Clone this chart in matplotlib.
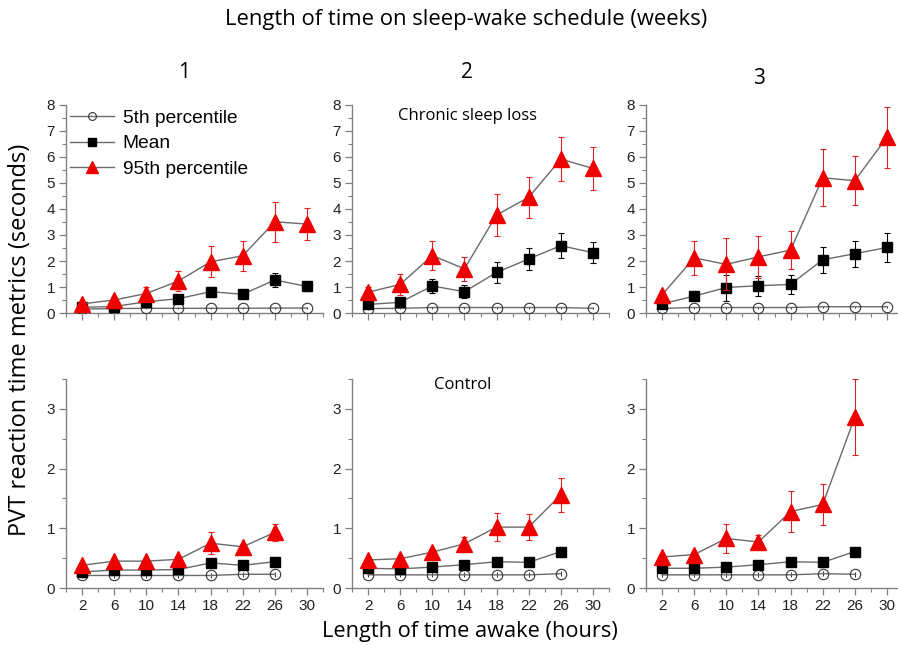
import matplotlib
matplotlib.use("Agg")
import matplotlib.pyplot as plt
from matplotlib.ticker import MultipleLocator

# hours awake (chronic sleep loss has 8 points, control 7)
hours = [2, 6, 10, 14, 18, 22, 26, 30]
hours_ctrl = [2, 6, 10, 14, 18, 22, 26]
weeks = ["1", "2", "3"]

# chronic sleep loss, one list per week
p5_chronic = [
    [0.15, 0.17, 0.18, 0.18, 0.18, 0.18, 0.19, 0.19],
    [0.17, 0.18, 0.21, 0.21, 0.21, 0.21, 0.21, 0.18],
    [0.18, 0.21, 0.21, 0.21, 0.21, 0.24, 0.24, 0.24],
]
mean_chronic = [
    [0.22, 0.25, 0.43, 0.55, 0.82, 0.72, 1.27, 1.02],
    [0.33, 0.41, 1.04, 0.82, 1.56, 2.08, 2.59, 2.32],
    [0.35, 0.65, 0.98, 1.05, 1.10, 2.05, 2.28, 2.52],
]
mean_chronic_err = [
    [0.05, 0.07, 0.12, 0.15, 0.17, 0.10, 0.27, 0.17],
    [0.08, 0.10, 0.27, 0.25, 0.40, 0.42, 0.47, 0.40],
    [0.10, 0.10, 0.50, 0.38, 0.37, 0.50, 0.50, 0.55],
]
p95_chronic = [
    [0.35, 0.50, 0.75, 1.23, 1.97, 2.20, 3.51, 3.42],
    [0.80, 1.10, 2.21, 1.70, 3.77, 4.45, 5.92, 5.56],
    [0.70, 2.12, 1.87, 2.16, 2.42, 5.20, 5.09, 6.76],
]
p95_chronic_err = [
    [0.10, 0.12, 0.25, 0.38, 0.60, 0.57, 0.77, 0.62],
    [0.20, 0.40, 0.57, 0.47, 0.80, 0.80, 0.85, 0.82],
    [0.15, 0.65, 1.00, 0.80, 0.72, 1.10, 0.95, 1.18],
]

# control condition
p5_ctrl = [
    [0.21, 0.21, 0.21, 0.21, 0.21, 0.23, 0.23],
    [0.22, 0.22, 0.22, 0.22, 0.22, 0.22, 0.24],
    [0.22, 0.22, 0.22, 0.22, 0.22, 0.24, 0.23],
]
mean_ctrl = [
    [0.27, 0.30, 0.30, 0.31, 0.42, 0.38, 0.44],
    [0.33, 0.32, 0.35, 0.39, 0.44, 0.43, 0.61],
    [0.33, 0.33, 0.35, 0.39, 0.44, 0.43, 0.61],
]
mean_ctrl_err = [
    [0.02, 0.02, 0.02, 0.02, 0.05, 0.03, 0.04],
    [0.02, 0.02, 0.02, 0.02, 0.02, 0.02, 0.04],
    [0.02, 0.02, 0.02, 0.02, 0.02, 0.02, 0.04],
]
p95_ctrl = [
    [0.38, 0.45, 0.45, 0.48, 0.75, 0.69, 0.93],
    [0.47, 0.49, 0.60, 0.74, 1.02, 1.02, 1.56],
    [0.52, 0.56, 0.83, 0.77, 1.28, 1.40, 2.86],
]
p95_ctrl_err = [
    [0.03, 0.03, 0.03, 0.05, 0.18, 0.05, 0.15],
    [0.03, 0.03, 0.05, 0.11, 0.23, 0.22, 0.29],
    [0.04, 0.05, 0.24, 0.12, 0.35, 0.35, 0.64],
]

plt.rcParams["font.family"] = ["Liberation Sans", "DejaVu Sans"]
LABEL_FONT = ["Open Sans", "DejaVu Sans"]
LINE_C = "#6a6a6a"
SPINE_C = "#808080"

W, H = 898, 645
fig = plt.figure(figsize=(W / 100, H / 100), dpi=100)


def px_axes(x0, y_top, x1, y_bot):
    return fig.add_axes([x0 / W, 1 - y_bot / H, (x1 - x0) / W, (y_bot - y_top) / H])


def draw_series(ax, x, p5, mean, mean_err, p95, p95_err):
    e1 = ax.errorbar(x, p5, yerr=0.04, color=LINE_C, lw=1.0, ecolor="#333333",
                     elinewidth=0.7, capsize=0, marker="o", ms=7.5, mfc="none",
                     mec="#333333", mew=0.8, zorder=3)
    e2 = ax.errorbar(x, mean, yerr=mean_err, color=LINE_C, lw=1.0, ecolor="black",
                     elinewidth=0.8, capsize=2, capthick=0.8, marker="s", ms=7.5,
                     mfc="black", mec="black", zorder=4)
    e3 = ax.errorbar(x, p95, yerr=p95_err, color=LINE_C, lw=1.0, ecolor="#e02020",
                     elinewidth=0.8, capsize=2, capthick=0.8, marker="^", ms=11,
                     mfc="#ee0000", mec="#ee0000", zorder=5)
    return [e1[0], e2[0], e3[0]]


def style(ax, ymax, show_x):
    ax.set_xlim(0, 32)
    ax.set_ylim(0, ymax)
    for s in ["top", "right"]:
        ax.spines[s].set_visible(False)
    for s in ["left", "bottom"]:
        ax.spines[s].set_color(SPINE_C)
        ax.spines[s].set_linewidth(1.0)
    ax.set_xticks(hours)
    ax.xaxis.set_minor_locator(MultipleLocator(2))
    ax.yaxis.set_major_locator(MultipleLocator(1))
    ax.yaxis.set_minor_locator(MultipleLocator(0.5))
    ax.tick_params(which="major", direction="out", length=5, width=0.9,
                   color=SPINE_C, labelsize=11, labelcolor="#222222", pad=3)
    ax.tick_params(which="minor", direction="out", length=3, width=0.8, color=SPINE_C)
    if not show_x:
        ax.tick_params(axis="x", labelbottom=False)


lefts = [66, 352, 646]
for i in range(3):
    x0 = lefts[i]
    ax_top = px_axes(x0, 105, x0 + 257, 313)
    lines = draw_series(ax_top, hours, p5_chronic[i], mean_chronic[i],
                        mean_chronic_err[i], p95_chronic[i], p95_chronic_err[i])
    style(ax_top, 8, False)

    ax_bot = px_axes(x0, 379, x0 + 257, 588)
    draw_series(ax_bot, hours_ctrl, p5_ctrl[i], mean_ctrl[i], mean_ctrl_err[i],
                p95_ctrl[i], p95_ctrl_err[i])
    style(ax_bot, 3.5, True)

    if i == 0:
        ax_top.legend(lines, ["5th percentile", "Mean", "95th percentile"],
                      loc="upper left", bbox_to_anchor=(-0.014, 1.015),
                      frameon=False, fontsize=13.8, handlelength=2.3, markerscale=0.75,
                      handletextpad=0.45, labelspacing=0.42, borderaxespad=0.0)
    if i == 1:
        ax_top.text(0.45, 0.985, "Chronic sleep loss", transform=ax_top.transAxes,
                    ha="center", va="top", fontsize=12, family=LABEL_FONT)
        ax_bot.text(0.43, 1.01, "Control", transform=ax_bot.transAxes,
                    ha="center", va="top", fontsize=12, family=LABEL_FONT)

fig.text(466 / W, 1 - 20 / H, "Length of time on sleep-wake schedule (weeks)",
         ha="center", va="center", fontsize=15.8, family=LABEL_FONT)
for xpix, ypix, w in zip([184, 467, 759], [73, 73, 78], weeks):
    fig.text(xpix / W, 1 - ypix / H, w, ha="center", va="center", fontsize=15,
             family=LABEL_FONT)
fig.text(20 / W, 1 - 340 / H, "PVT reaction time metrics (seconds)", rotation=90,
         ha="center", va="center", fontsize=17, family=LABEL_FONT)
fig.text(470 / W, 1 - 632 / H, "Length of time awake (hours)", ha="center",
         va="center", fontsize=15.7, family=LABEL_FONT)

fig.savefig("out.png", dpi=100)
